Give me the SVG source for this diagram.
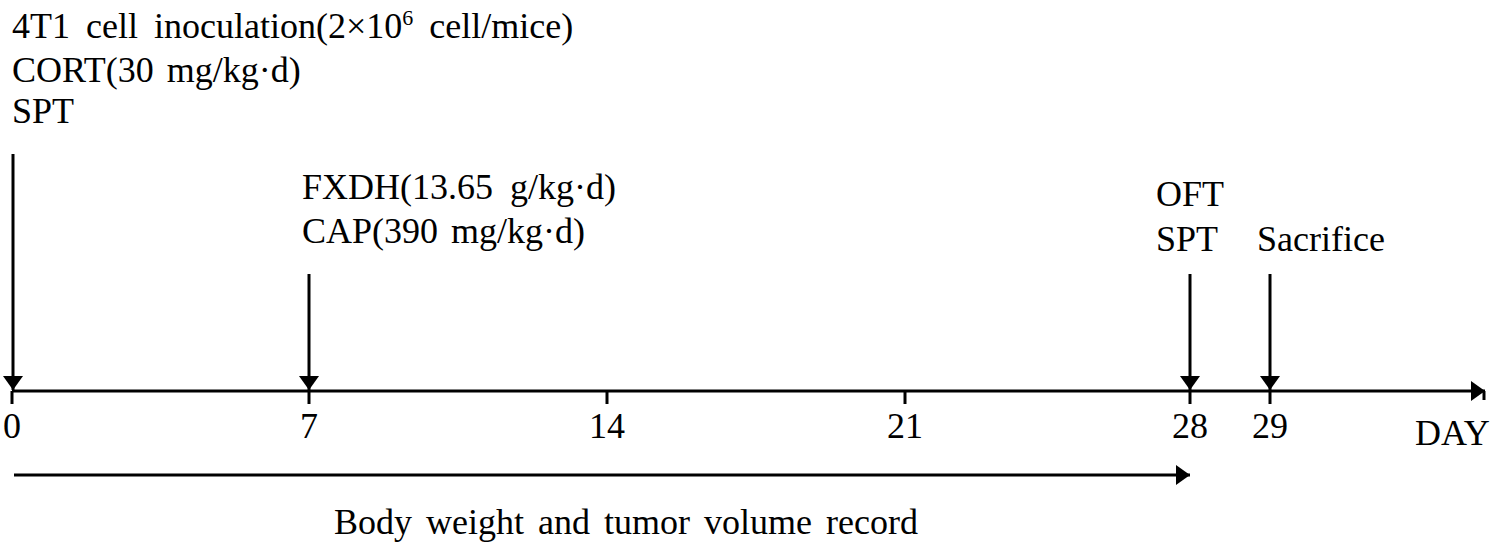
<svg xmlns="http://www.w3.org/2000/svg" width="1500" height="548" viewBox="0 0 1500 548">
<defs>
<style>
text{font-family:"Liberation Serif","Times New Roman",serif;font-size:36px;fill:#000}
.ln{stroke:#000;stroke-width:3;fill:none}
</style>
<marker id="ah" viewBox="0 0 14 20" refX="14" refY="10" markerWidth="14" markerHeight="20" markerUnits="userSpaceOnUse" orient="auto">
<path d="M0,0 L14,10 L0,20 Z" fill="#000"/>
</marker>
</defs>
<rect width="1500" height="548" fill="#fff"/>
<g id="connectors">
<line class="ln" x1="12" y1="391" x2="1485" y2="391" marker-end="url(#ah)"/>
<line class="ln" x1="1484" y1="391" x2="1484" y2="400"/>
<line class="ln" x1="12" y1="391" x2="12" y2="404"/>
<line class="ln" x1="309" y1="391" x2="309" y2="404"/>
<line class="ln" x1="607" y1="391" x2="607" y2="404"/>
<line class="ln" x1="905" y1="391" x2="905" y2="404"/>
<line class="ln" x1="1190" y1="391" x2="1190" y2="404"/>
<line class="ln" x1="1270" y1="391" x2="1270" y2="404"/>
<line class="ln" x1="13" y1="154" x2="13" y2="390" marker-end="url(#ah)"/>
<line class="ln" x1="309" y1="274" x2="309" y2="390" marker-end="url(#ah)"/>
<line class="ln" x1="1190" y1="274" x2="1190" y2="390" marker-end="url(#ah)"/>
<line class="ln" x1="1270" y1="274" x2="1270" y2="390" marker-end="url(#ah)"/>
<line class="ln" x1="14" y1="475" x2="1190" y2="475" marker-end="url(#ah)"/>
</g>
<g id="day0">
<text x="12" y="38" word-spacing="7">4T1 cell inoculation(2×10<tspan dy="-13" font-size="22">6</tspan><tspan dy="13"> cell/mice)</tspan></text>
<text x="12" y="82" word-spacing="4">CORT(30 mg/kg·d)</text>
<text x="12" y="123">SPT</text>
</g>
<g id="day7">
<text x="302" y="199" word-spacing="8">FXDH(13.65 g/kg·d)</text>
<text x="302" y="243" word-spacing="4">CAP(390 mg/kg·d)</text>
</g>
<g id="day28">
<text x="1156" y="206">OFT</text>
<text x="1156" y="251">SPT</text>
</g>
<g id="day29">
<text x="1257" y="251">Sacrifice</text>
</g>
<g id="labels">
<text x="12" y="438" text-anchor="middle">0</text>
<text x="309" y="438" text-anchor="middle">7</text>
<text x="607" y="438" text-anchor="middle">14</text>
<text x="905" y="438" text-anchor="middle">21</text>
<text x="1190" y="438" text-anchor="middle">28</text>
<text x="1270" y="438" text-anchor="middle">29</text>
<text x="1415" y="445">DAY</text>
<text x="334" y="534" word-spacing="5">Body weight and tumor volume record</text>
</g>
</svg>
